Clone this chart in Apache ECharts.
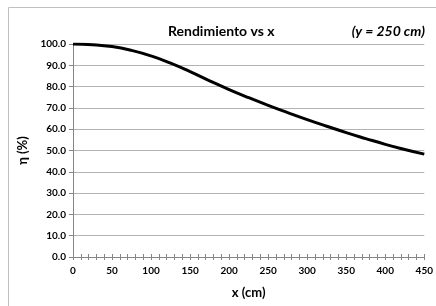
<!DOCTYPE html>
<html>
<head>
<meta charset="utf-8">
<script src="https://cdn.jsdelivr.net/npm/echarts@6/dist/echarts.min.js"></script>
<style>
html,body{margin:0;padding:0;background:#fff;}
#main{width:436px;height:306px;}
</style>
</head>
<body>
<div id="main"></div>
<script>
// x (cm) and efficiency (%)
var xValues = [0, 25, 50, 75, 100, 125, 150, 175, 200, 225, 250, 275, 300, 325, 350, 375, 400, 425, 450];
var etaValues = [100, 99.7, 98.8, 97.0, 94.4, 91.0, 87.0, 82.7, 78.6, 74.8, 71.2, 67.8, 64.5, 61.4, 58.4, 55.6, 52.9, 50.5, 48.3];
var titleText = 'Rendimiento vs x';
var subText = '(y = 250 cm)';

window.onload = function () {
	var myChart = echarts.init(document.getElementById('main'));
	var pts = [];
	for (var i = 0; i < xValues.length; i++) {
		pts.push([xValues[i], etaValues[i]]);
	}
	var font = 'Lato, "Open Sans", sans-serif';
	var option = {
		animation: false,
		backgroundColor: '#fff',
		textStyle: {fontFamily: font},
		title: [
			{text: titleText, left: 163, top: 19,
				textStyle: {fontSize: 14, fontWeight: 'bold', color: '#000', fontFamily: font}},
			{text: subText, right: 6, top: 19,
				textStyle: {fontSize: 14, fontWeight: 'bold', fontStyle: 'italic', color: '#000', fontFamily: font}}
		],
		graphic: [{
			type: 'rect',
			shape: {x: 8.5, y: 7.5, width: 440, height: 320},
			style: {fill: 'none', stroke: '#c0c0c0', lineWidth: 1},
			silent: true
		}],
		grid: {left: 73, right: 8, top: 44, bottom: 49},
		xAxis: [{
			type: 'value',
			min: 0, max: 450, interval: 50,
			name: 'x (cm)',
			nameLocation: 'middle',
			nameGap: 29,
			nameTextStyle: {fontSize: 13, fontWeight: 'bold', color: '#000', fontFamily: font},
			axisLine: {show: true, onZero: false, lineStyle: {color: '#868686', width: 1}},
			axisTick: {show: true, length: 3, lineStyle: {color: '#868686'}},
			minorTick: {show: true, splitNumber: 5, length: 3, lineStyle: {color: '#868686'}},
			axisLabel: {fontSize: 10, fontWeight: 'bold', color: '#000', margin: 9, fontFamily: font},
			splitLine: {show: false}
		}, {
			type: 'value',
			position: 'bottom',
			min: 0, max: 450, interval: 50,
			axisLine: {show: false},
			axisTick: {show: true, inside: true, length: 3, lineStyle: {color: '#868686'}},
			minorTick: {show: true, splitNumber: 5, length: 3, lineStyle: {color: '#868686'}},
			axisLabel: {show: false},
			splitLine: {show: false}
		}],
		yAxis: {
			type: 'value',
			min: 0, max: 100, interval: 10,
			name: 'η (%)',
			nameLocation: 'middle',
			nameGap: 36,
			nameTextStyle: {fontSize: 13, fontWeight: 'bold', color: '#000', fontFamily: font},
			axisLine: {show: true, lineStyle: {color: '#868686', width: 1}},
			axisTick: {show: true, length: 4, lineStyle: {color: '#868686'}},
			axisLabel: {fontSize: 10, fontWeight: 'bold', color: '#000', margin: 7, fontFamily: font,
				formatter: function (v) { return v.toFixed(1); }},
			splitLine: {show: true, lineStyle: {color: '#b3b3b3', width: 1}}
		},
		series: [{
			name: 'eta',
			type: 'line',
			xAxisIndex: 0,
			data: pts,
			smooth: true,
			showSymbol: false,
			lineStyle: {color: '#000', width: 3}
		}]
	};
	myChart.setOption(option);
};
</script>
</body>
</html>
